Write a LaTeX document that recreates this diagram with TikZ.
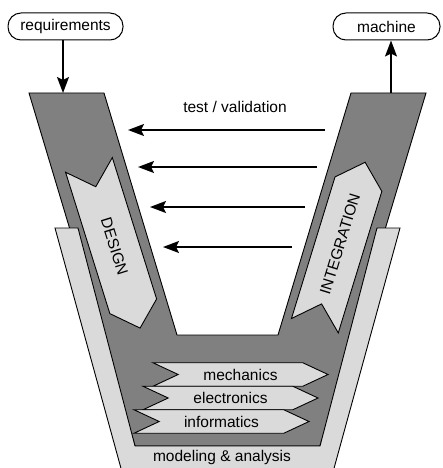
\documentclass[tikz,border=0pt]{standalone}
\usepackage{fontspec}
\setmainfont{Liberation Sans}
\usetikzlibrary{arrows.meta, shapes.symbols}
\definecolor{darkgrey}{HTML}{808080}
\definecolor{lightgrey}{HTML}{DADADA}
\tikzset {
    >={Stealth[length=16pt, width=12pt, inset=3pt]},
    every node/.style={font=\fontsize{15.5}{18}\selectfont},
    endbox/.style={draw, line width=1pt, rounded corners=13pt, minimum height=27pt},
    flow/.style={->, line width=1.6pt},
    plate/.style={draw, line width=0.9pt, line join=miter},
    phase/.style={signal, signal to=east, signal from=west, draw, fill=lightgrey,
        line width=0.9pt, signal pointer angle=94, minimum height=49pt,
        minimum width=171pt, inner sep=0pt},
    discipline/.style={signal, signal to=east, signal from=west, draw, fill=lightgrey,
        line width=0.9pt, signal pointer angle=50, minimum height=23.5pt,
        minimum width=175pt, inner sep=0pt}
}

\begin{document}
\begin{tikzpicture}[x=1pt, y=-1pt]
    \useasboundingbox (0,0) rectangle (443,468);

    \node[endbox, minimum width=115pt] (req) at (65.5,26.5) {requirements};
    \node[endbox, minimum width=107pt] (mach) at (386.5,26.5) {machine};

    \draw[plate, fill=darkgrey] (29,93) -- (104,93) -- (177,335) -- (278,335)
        -- (351,93) -- (426,93) -- (320,446) -- (135,446) -- cycle;
    \draw[plate, fill=lightgrey] (55,228) -- (78,228) -- (135,446) -- (320,446)
        -- (377,228) -- (400,228) -- (333,472) -- (122,472) -- cycle;

    \coordinate (rtop) at (63,93);
    \coordinate (mtop) at (391,93);
    \draw[flow] (req.south -| rtop) -- (rtop);
    \draw[flow] (mtop) -- (mtop |- mach.south);

    \node (tv) at (235,107) {test / validation};
    \foreach \y/\xr/\xl [count=\i] in {130/325/128, 167/317/138, 207/305/150, 247/292/163} {
        \coordinate (tvr\i) at (\xr,\y);
        \coordinate (tvl\i) at (\xl,\y);
        \draw[flow] (tvr\i) -- (tvl\i);
    }

    \node[phase, rotate=-72.6] (design) at (114.5,246.5) {DESIGN};
    \node[phase, rotate=72.9] (integ) at (340,244) {INTEGRATION};

    \node[discipline] (mech) at (240.5,374.5) {mechanics};
    \node[discipline] (elec) at (230.5,398) {electronics};
    \node[discipline] (info) at (221.5,421.5) {informatics};

    \node (model) at (222,457) {modeling \& analysis};
\end{tikzpicture}
\end{document}
